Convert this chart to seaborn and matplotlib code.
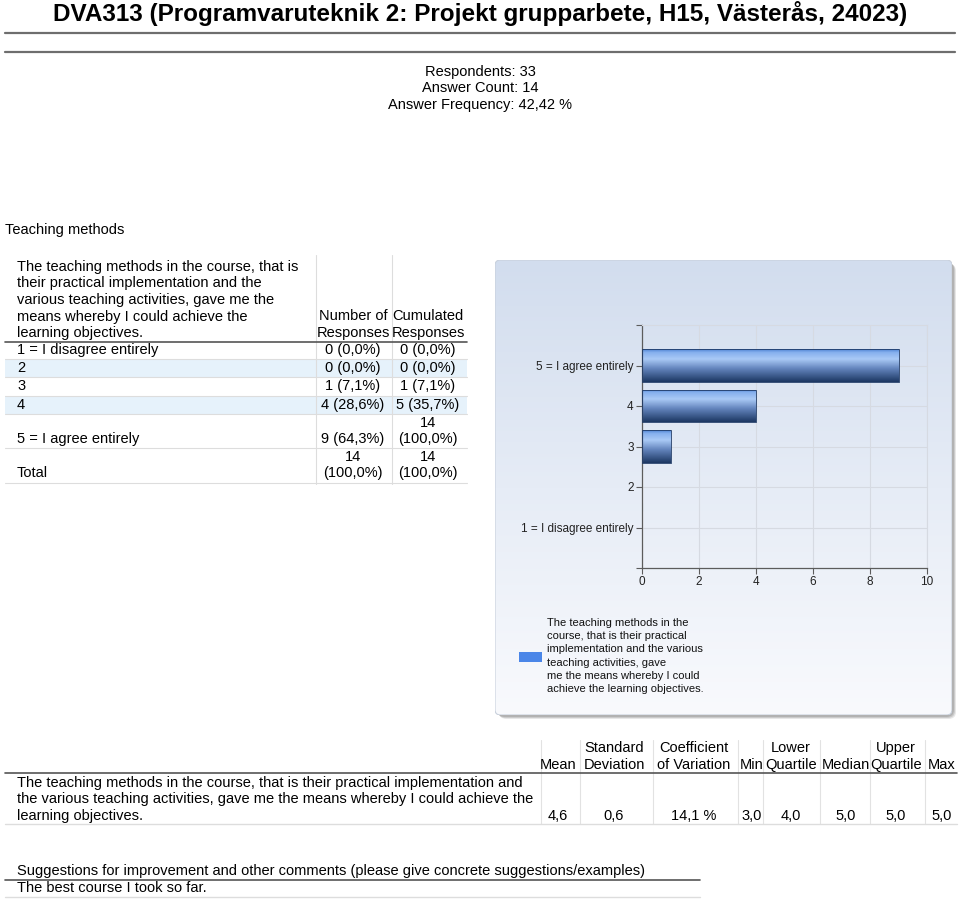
import numpy as np
import matplotlib.pyplot as plt
import seaborn as sns
from matplotlib.colors import LinearSegmentedColormap
from matplotlib.patches import FancyBboxPatch, Rectangle
from matplotlib.lines import Line2D

# ---- data -------------------------------------------------------------
title = "DVA313 (Programvaruteknik 2: Projekt grupparbete, H15, Västerås, 24023)"
summary_lines = ["Respondents: 33", "Answer Count: 14", "Answer Frequency: 42,42 %"]
section = "Teaching methods"

question_lines = ["The teaching methods in the course, that is",
                  "their practical implementation and the",
                  "various teaching activities, gave me the",
                  "means whereby I could achieve the",
                  "learning objectives."]
categories = ["1 = I disagree entirely", "2", "3", "4", "5 = I agree entirely"]
counts = [0, 0, 1, 4, 9]
count_pct = ["0,0%", "0,0%", "7,1%", "28,6%", "64,3%"]
cumulated = [0, 0, 1, 5, 14]
cum_pct = ["0,0%", "0,0%", "7,1%", "35,7%", "100,0%"]
total = 14

legend_lines = ["The teaching methods in the",
                "course, that is their practical",
                "implementation and the various",
                "teaching activities, gave",
                "me the means whereby I could",
                "achieve the learning objectives."]

stat_headers = [("", "Mean"), ("Standard", "Deviation"), ("Coefficient", "of Variation"),
                ("", "Min"), ("Lower", "Quartile"), ("", "Median"), ("Upper", "Quartile"), ("", "Max")]
stat_values = ["4,6", "0,6", "14,1 %", "3,0", "4,0", "5,0", "5,0", "5,0"]
stat_question = ["The teaching methods in the course, that is their practical implementation and",
                 "the various teaching activities, gave me the means whereby I could achieve the",
                 "learning objectives."]
comment_header = "Suggestions for improvement and other comments (please give concrete suggestions/examples)"
comments = ["The best course I took so far."]

# ---- page setup -------------------------------------------------------
W, H = 960, 899
FS = 10.5
sns.set_theme(style="white")
plt.rcParams['font.family'] = ['Liberation Sans', 'DejaVu Sans']
fig = plt.figure(figsize=(W / 100, H / 100), dpi=100)
fig.patch.set_facecolor("white")


def txt(x, y, s, ha="left", size=FS, **kw):
    fig.text(x / W, 1 - y / H, s, ha=ha, va="center", fontsize=size, color="black", **kw)


def hline(x0, x1, y, color="#555555", lw=1.0):
    fig.add_artist(Line2D([x0 / W, x1 / W], [1 - y / H] * 2, color=color, lw=lw))


def vline(x, y0, y1, color="#dddddd", lw=0.8):
    fig.add_artist(Line2D([x / W] * 2, [1 - y0 / H, 1 - y1 / H], color=color, lw=lw))


def rect(x0, y0, x1, y1, color):
    fig.add_artist(Rectangle((x0 / W, 1 - y1 / H), (x1 - x0) / W, (y1 - y0) / H,
                             facecolor=color, edgecolor="none", transform=fig.transFigure, zorder=0))


# title + header
txt(480, 14, title, ha="center", size=17.5, fontweight="bold")
hline(5, 955, 33, color="#6e6e6e", lw=1.6)
hline(5, 955, 52, color="#6e6e6e", lw=1.6)
for i, s in enumerate(summary_lines):
    txt(480, 72 + i * 16.5, s, ha="center")
txt(5, 230, section)

# ---- frequency table --------------------------------------------------
rect(5, 359, 467, 377, "#e6f2fb")
rect(5, 396, 467, 414, "#e6f2fb")
for i, s in enumerate(question_lines):
    txt(17, 267 + i * 16.5, s)
txt(353, 316, "Number of", ha="center")
txt(353, 333, "Responses", ha="center")
txt(428, 316, "Cumulated", ha="center")
txt(428, 333, "Responses", ha="center")
vline(316, 255, 484)
vline(392, 255, 484)
hline(5, 467, 342, color="#555555", lw=1.2)
for y in [359, 377, 396, 414, 448]:
    hline(5, 467, y, color="#dddddd", lw=0.8)
hline(5, 467, 483, color="#dddddd", lw=0.8)

row_y = [350, 368, 386, 405]
for i in range(4):
    txt(17, row_y[i], categories[i])
    txt(353, row_y[i], f"{counts[i]} ({count_pct[i]})", ha="center")
    txt(428, row_y[i], f"{cumulated[i]} ({cum_pct[i]})", ha="center")
txt(17, 439, categories[4])
txt(353, 439, f"{counts[4]} ({count_pct[4]})", ha="center")
txt(428, 423, f"{cumulated[4]}", ha="center")
txt(428, 439, f"({cum_pct[4]})", ha="center")
txt(17, 473, "Total")
txt(353, 457, f"{total}", ha="center")
txt(353, 473, "(100,0%)", ha="center")
txt(428, 457, f"{total}", ha="center")
txt(428, 473, "(100,0%)", ha="center")

# ---- chart panel ------------------------------------------------------
px0, py0, px1, py1 = 495, 260, 952, 715
for off, a in [(4, 0.18), (3, 0.25), (2, 0.3)]:
    fig.add_artist(FancyBboxPatch(((px0 + off) / W, 1 - (py1 + off) / H), (px1 - px0) / W, (py1 - py0) / H,
                                  boxstyle="round,pad=0,rounding_size=0.008", transform=fig.transFigure,
                                  facecolor="#7a7a7a", edgecolor="none", alpha=a, zorder=0))
bg_ax = fig.add_axes([px0 / W, 1 - py1 / H, (px1 - px0) / W, (py1 - py0) / H], zorder=1)
bg_ax.set_axis_off()
panel_cmap = LinearSegmentedColormap.from_list("panel", ["#d2ddee", "#e6ecf6", "#f9fafd"])
panel = FancyBboxPatch((0, 0), 1, 1, boxstyle="round,pad=0,rounding_size=0.012",
                       transform=bg_ax.transAxes, facecolor="none", edgecolor="#c8d0dc", lw=0.8)
bg_ax.add_patch(panel)
im = bg_ax.imshow(np.linspace(0, 1, 256).reshape(-1, 1), extent=[0, 1, 0, 1], aspect="auto",
                  cmap=panel_cmap, origin="upper")
im.set_clip_path(panel)
bg_ax.set_xlim(0, 1)
bg_ax.set_ylim(0, 1)

ax = fig.add_axes([642 / W, 1 - 568 / H, (927 - 642) / W, (568 - 325) / H], zorder=2)
ax.patch.set_alpha(0)
order = list(reversed(categories))
sns.barplot(x=counts, y=categories, order=order, orient="h", ax=ax, color="#4a86e8", width=0.8,
            errorbar=None)

bar_cmap = LinearSegmentedColormap.from_list(
    "bar", [(0, "#4f82d2"), (0.1, "#86b0ee"), (0.3, "#a9c9f6"), (0.6, "#6283bb"), (1, "#1c3762")])
for p in list(ax.patches):
    w = p.get_width()
    if w <= 0:
        continue
    x0, y0, h = p.get_x(), p.get_y(), p.get_height()
    g = ax.imshow(np.linspace(0, 1, 128).reshape(-1, 1), extent=[x0, x0 + w, y0 + h, y0],
                  aspect="auto", cmap=bar_cmap, origin="upper", zorder=2)
    g.set_clip_path(p)
    p.set_facecolor("none")
    p.set_edgecolor("#1f3a66")
    p.set_linewidth(0.6)
    p.set_zorder(3)

ax.set_xlim(0, 10)
ax.set_ylim(5, -1)
ax.set_xticks(range(0, 11, 2))
ax.set_yticks(range(5))
ax.set_yticklabels(order)
ax.set_yticks([-1, 5], minor=True)
ax.set_xlabel("")
ax.set_ylabel("")
ax.grid(True, which="major", color="#d6dae2", lw=0.8)
ax.set_axisbelow(True)
for side in ["top", "right"]:
    ax.spines[side].set_color("#d6dae2")
    ax.spines[side].set_linewidth(0.8)
for side in ["left", "bottom"]:
    ax.spines[side].set_color("#5c5c5c")
    ax.spines[side].set_linewidth(0.9)
ax.tick_params(axis="both", which="both", direction="out", length=4, width=0.8, color="#5c5c5c",
               labelsize=8.5, labelcolor="#222222", pad=2, left=True, bottom=True)

# legend
rect_l = Rectangle((519 / W, 1 - 662 / H), 23 / W, 10 / H, facecolor="#4a86e8", edgecolor="none",
                   transform=fig.transFigure, zorder=3)
fig.add_artist(rect_l)
for i, s in enumerate(legend_lines):
    fig.text(547 / W, 1 - (623 + i * 13.2) / H, s, ha="left", va="center", fontsize=8,
             color="#111111", zorder=3)

# ---- statistics table -------------------------------------------------
col_x = [558, 614, 694, 752, 791, 846, 896, 942]
for x in [541, 580, 653, 738, 763, 820, 870, 925]:
    vline(x, 740, 824, color="#e2e2e2")
for (h1, h2), x, v in zip(stat_headers, col_x, stat_values):
    if h1:
        txt(x, 748, h1, ha="center")
    txt(x, 765, h2, ha="center")
    txt(x, 816, v, ha="center")
hline(5, 957, 773, color="#555555", lw=1.2)
for i, s in enumerate(stat_question):
    txt(17, 783 + i * 16.5, s)
hline(5, 957, 824, color="#dddddd", lw=1.0)

# ---- comments ---------------------------------------------------------
txt(17, 871, comment_header)
hline(5, 700, 880, color="#555555", lw=1.2)
txt(17, 888, comments[0])
hline(5, 700, 897, color="#dddddd", lw=1.0)

fig.savefig("out.png", dpi=100)
